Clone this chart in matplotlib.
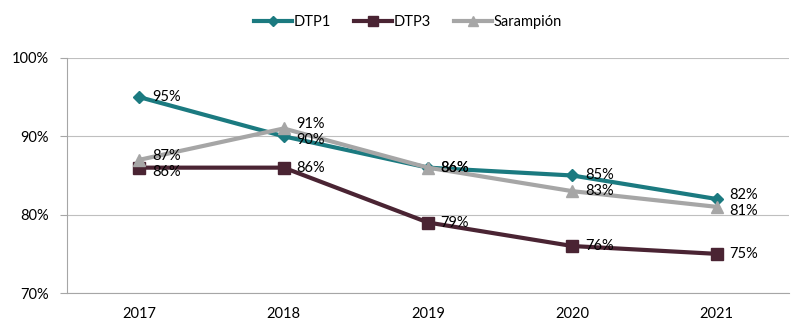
import matplotlib.pyplot as plt
from matplotlib.ticker import FuncFormatter

years = ['2017', '2018', '2019', '2020', '2021']
dtp1 = [95, 90, 86, 85, 82]
dtp3 = [86, 86, 79, 76, 75]
sarampion = [87, 91, 86, 83, 81]

plt.rcParams['font.family'] = ['Lato', 'DejaVu Sans']

fig = plt.figure(figsize=(8, 3.33), dpi=100)
ax = fig.add_axes([0.084, 0.120, 0.902, 0.706])

x = list(range(len(years)))
series = [
    ('DTP1', dtp1, '#1B7A80', 'D', 6),
    ('DTP3', dtp3, '#4A2433', 's', 9),
    ('Sarampión', sarampion, '#A6A6A6', '^', 9),
]
all_vals = [s[1] for s in series]
for name, vals, color, marker, ms in series:
    ax.plot(x, vals, color=color, lw=3, marker=marker, markersize=ms, label=name)
    for xi, v in zip(x, vals):
        # push apart labels that sit one point from another series' label
        others = [o[xi] for o in all_vals if o is not vals]
        dy = 0
        if any(o == v - 1 for o in others):
            dy = 3
        elif any(o == v + 1 for o in others):
            dy = -3
        ax.annotate(f'{v}%', (xi, v), xytext=(9, dy), textcoords='offset points',
                    va='center', ha='left', fontsize=10.5, color='black')

ax.set_xlim(-0.5, 4.5)
ax.set_ylim(70, 100)
ax.set_yticks([70, 80, 90, 100])
ax.yaxis.set_major_formatter(FuncFormatter(lambda v, p: f'{v:.0f}%'))
ax.set_xticks(x)
ax.set_xticklabels(years)
ax.grid(axis='y', color='#BFBFBF', lw=0.8)
ax.set_axisbelow(True)
for s in ['top', 'right']:
    ax.spines[s].set_visible(False)
for s in ['left', 'bottom']:
    ax.spines[s].set_color('#A6A6A6')
ax.tick_params(axis='y', length=5, color='#A6A6A6', labelsize=10.5, pad=8)
ax.tick_params(axis='x', length=0, labelsize=10.5, pad=10)

fig.legend(loc='upper center', bbox_to_anchor=(0.51, 0.995), ncol=3, frameon=False,
           fontsize=10.5, handlelength=2.6, columnspacing=1.6, handletextpad=0.1,
           markerscale=0.8)

fig.savefig('out.png', dpi=100)
